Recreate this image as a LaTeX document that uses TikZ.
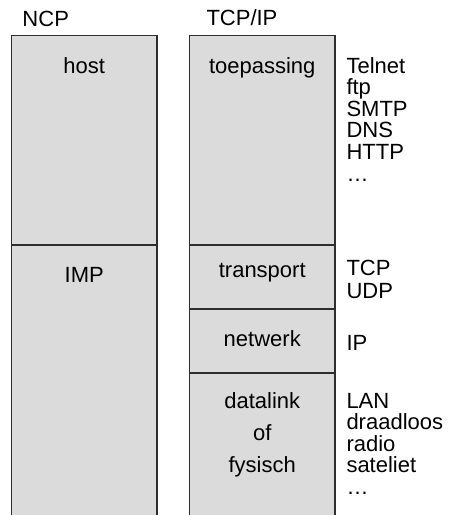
\documentclass[tikz,border=0pt]{standalone}
\usepackage{fontspec}
\setmainfont{Liberation Sans}
\definecolor{layerfill}{HTML}{DBDBDB}
\definecolor{layerline}{HTML}{2E2E2E}
\tikzset{
  layer/.style={draw=layerline, fill=layerfill, line width=1.4pt, inner sep=0pt, outer sep=0pt},
  txt/.style={inner sep=0pt, outer sep=0pt, font=\fontsize{22}{21.6}\selectfont, text=black},
}
\begin{document}
\begin{tikzpicture}[x=1pt,y=-1pt]
\useasboundingbox (0,0) rectangle (449,515);
\clip (0,0) rectangle (449,515);
% columns: left 11.5..157, right 189.5..335
\node[layer, minimum width=145.5pt, minimum height=209.5pt, anchor=north west] (host) at (11.5,35.5) {};
\node[layer, minimum width=145.5pt, minimum height=290pt, anchor=north west] (imp) at (11.5,245) {};
\node[layer, minimum width=145.5pt, minimum height=209.5pt, anchor=north west] (app) at (189.5,35.5) {};
\node[layer, minimum width=145.5pt, minimum height=64pt, anchor=north west] (trans) at (189.5,245) {};
\node[layer, minimum width=145.5pt, minimum height=64pt, anchor=north west] (net) at (189.5,309) {};
\node[layer, minimum width=145.5pt, minimum height=160pt, anchor=north west] (link) at (189.5,373) {};
% headings
\node[txt, anchor=base west] (ncp) at (22.5,26) {NCP};
\node[txt, anchor=base west] (tcpip) at (206.5,25) {TCP/IP};
% layer names
\node[txt, anchor=base] (thost) at (host.north |- 0,73) {host};
\node[txt, anchor=base] (timp) at (imp.north |- 0,282) {IMP};
\node[txt, anchor=base] (tapp) at (app.north |- 0,73) {toepassing};
\node[txt, anchor=base] (ttrans) at (trans.north |- 0,277) {transport};
\node[txt, anchor=base] (tnet) at (net.north |- 0,346) {netwerk};
\node[txt, anchor=base] (tlink1) at (link.north |- 0,408) {datalink};
\node[txt, anchor=base] (tlink2) at (link.north |- 0,440) {of};
\node[txt, anchor=base] (tlink3) at (link.north |- 0,472) {fysisch};
% protocols
\foreach \t [count=\i from 0] in {Telnet,ftp,SMTP,DNS,HTTP}
  \node[txt, anchor=base west] (pa\i) at (346.5,73+21.6*\i) {\t};
\node[txt, anchor=base west] (pa5) at (346.5,73+21.6*5) {\ldots};
\node[txt, anchor=base west] (pt0) at (346.5,275) {TCP};
\node[txt, anchor=base west] (pt1) at (346.5,298) {UDP};
\node[txt, anchor=base west] (pn0) at (346.5,350) {IP};
\foreach \t [count=\i from 0] in {LAN,draadloos,radio,sateliet}
  \node[txt, anchor=base west] (pl\i) at (346.5,408+21.5*\i) {\t};
\node[txt, anchor=base west] (pl4) at (346.5,408+21.5*4) {\ldots};
\end{tikzpicture}
\end{document}
